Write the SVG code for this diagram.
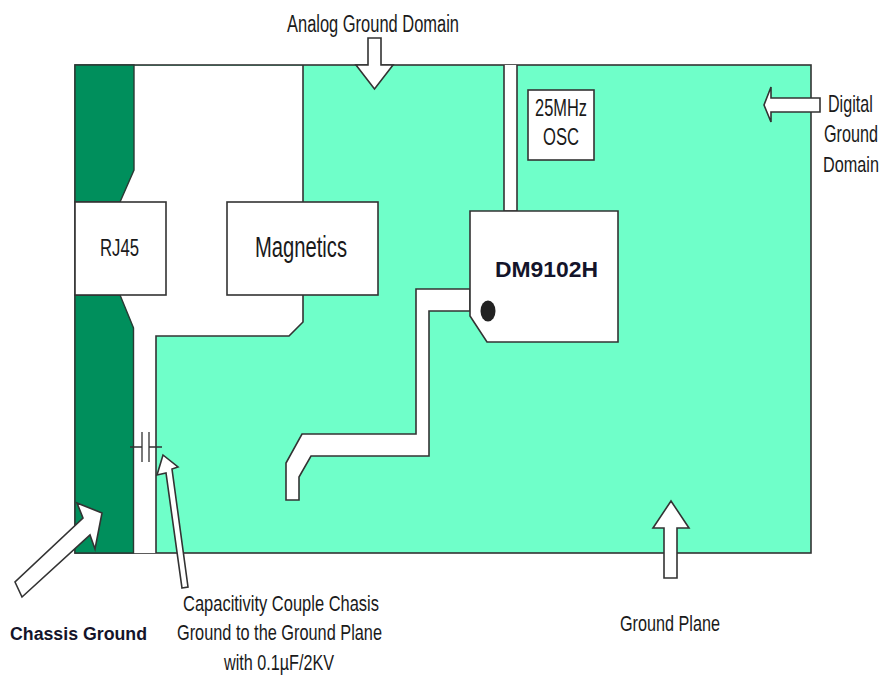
<svg xmlns="http://www.w3.org/2000/svg" width="882" height="678" viewBox="0 0 882 678">
  <style>
    .ln { stroke: #333; stroke-width: 1.6; stroke-linejoin: miter; }
    .wh { fill: #fff; }
    .t { font-family: "Liberation Sans", Arial, sans-serif; fill: #1a1a1a; text-anchor: start; }
    .b { font-weight: bold; fill: #14142a; }
  </style>
  <rect width="882" height="678" fill="#fff"/>
  <g id="board">
    <rect x="75" y="65" width="736" height="488" fill="#6fffc9" stroke="#333" stroke-width="1.6"/>
    <path d="M134 66 H303 V202 H227 V295 H303 V322 L289 336 H156 V553 H134 V328 L120 295 H75 V202 H120 L134 170 Z" fill="#fff"/>
    <path d="M303 65 V202 M303 295 V322 L289 336 H156 V553" fill="none" stroke="#333" stroke-width="1.6"/>
  </g>
  <g id="chassis-ground">
    <path d="M75 65 H134 V170 L120 202 H75 Z M75 295 H120 L133.500 328 V553 H75 Z" fill="#008f5c" stroke="#2a3a34" stroke-width="1.4"/>
  </g>
  <g id="rj45">
    <rect class="ln wh" x="75" y="202" width="91" height="93"/>
    <text class="t" x="100" y="256" font-size="23" textLength="39" lengthAdjust="spacingAndGlyphs">RJ45</text>
  </g>
  <g id="magnetics">
    <rect class="ln wh" x="227" y="202" width="151" height="93"/>
    <text class="t" x="255" y="257" font-size="29" textLength="92" lengthAdjust="spacingAndGlyphs">Magnetics</text>
  </g>
  <g id="connectors">
    <path class="ln wh" d="M504 65 V211 H517 V65"/>
    <path class="ln wh" d="M470 289 H416 V434 H302 L286 463 V500 H299 V477 L311 456 H429 V311 H470 Z"/>
    <path fill="none" stroke="#333" stroke-width="1.3" d="M130 447 H142 M142 432 V462 M149 432 V462 M149 447 H162"/>
  </g>
  <g id="osc">
    <rect class="ln wh" x="528" y="90" width="66" height="70"/>
    <text class="t" x="535" y="116" font-size="24" textLength="52" lengthAdjust="spacingAndGlyphs">25MHz</text>
    <text class="t" x="543" y="145" font-size="24" textLength="36" lengthAdjust="spacingAndGlyphs">OSC</text>
  </g>
  <g id="dm9102h">
    <path class="ln wh" d="M470 211 H618 V342 H487 L470 316 Z"/>
    <ellipse cx="488" cy="311" rx="7.5" ry="10.500" fill="#222"/>
    <text class="t b" x="495" y="277" font-size="22" textLength="103" lengthAdjust="spacingAndGlyphs">DM9102H</text>
  </g>
  <g id="analog-ground-domain">
    <path class="ln wh" d="M368 38 H381 V65 H393 L374.500 89 L356 65 H368 Z"/>
    <text class="t" x="287" y="32" font-size="23" textLength="172" lengthAdjust="spacingAndGlyphs">Analog Ground Domain</text>
  </g>
  <g id="digital-ground-domain">
    <path class="ln wh" d="M820 98 V112 H771 V122 L764 105 L771 87 V98 Z"/>
    <text class="t" transform="translate(828 112) scale(.7 1)" font-size="23">Digital</text>
    <text class="t" transform="translate(824 142) scale(.705 1)" font-size="23">Ground</text>
    <text class="t" transform="translate(823 172) scale(.707 1)" font-size="23">Domain</text>
  </g>
  <g id="ground-plane">
    <path class="ln wh" d="M664 578 V528 H653 L671 501 L689 528 H677 V578 Z"/>
    <text class="t" x="620" y="631" font-size="22" textLength="100" lengthAdjust="spacingAndGlyphs">Ground Plane</text>
  </g>
  <g id="chassis-label">
    <path class="ln wh" d="M15 582 L22 597 L90 535 L95 549 L102 513 L77 503 L83 518 Z"/>
    <text class="t b" x="10" y="640" font-size="18" textLength="137" lengthAdjust="spacingAndGlyphs">Chassis Ground</text>
  </g>
  <g id="capacitor-label">
    <path class="ln wh" d="M182 588 L188 587 L172 469 L178 467 L163 455 L157 475 L166 473 Z"/>
    <text class="t" x="183" y="611" font-size="22" textLength="196" lengthAdjust="spacingAndGlyphs">Capacitivity Couple Chasis</text>
    <text class="t" x="177" y="640" font-size="22" textLength="205" lengthAdjust="spacingAndGlyphs">Ground to the Ground Plane</text>
    <text class="t" x="224" y="670" font-size="22" textLength="110" lengthAdjust="spacingAndGlyphs">with 0.1µF/2KV</text>
  </g>
</svg>
